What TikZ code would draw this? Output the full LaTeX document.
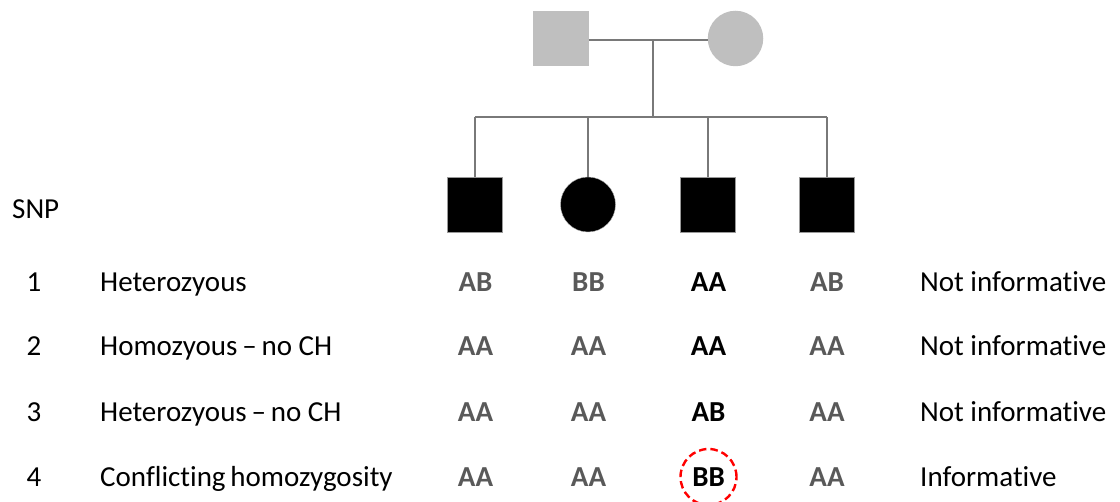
\documentclass[tikz,border=0pt]{standalone}
\usepackage{fontspec}
\setmainfont{Carlito}[Ligatures=NoCommon]
\begin{document}
\begin{tikzpicture}[x=1pt,y=-1pt,
  every node/.style={font=\fontsize{29}{34}\selectfont},
  line/.style={draw=gray!95!black, line width=1.6pt},
  parentsq/.style={draw=none, fill=black!25, rectangle, minimum size=55.5pt, inner sep=0pt},
  parentci/.style={draw=none, fill=black!25, circle, minimum size=55.5pt, inner sep=0pt},
  childsq/.style={fill=black, draw=gray!80, line width=0.4pt, rectangle, minimum size=55pt, inner sep=0pt},
  childci/.style={fill=black, draw=gray!60, line width=0.4pt, circle, minimum size=55pt, inner sep=0pt},
  gt/.style={anchor=base, font=\fontsize{29}{34}\selectfont\bfseries, text=black!65},
  gtk/.style={anchor=base, font=\fontsize{29}{34}\selectfont\bfseries, text=black},
  num/.style={anchor=base},
  lab/.style={anchor=base west},
  res/.style={anchor=base west},
  flag/.style={draw=red, dash pattern=on 7.5pt off 4pt, line width=2.4pt, circle, minimum size=56pt, inner sep=0pt}
]
\useasboundingbox (0,0) rectangle (1120,502);
% parents
\node[parentsq] (f) at (561,38.5) {};
\node[parentci] (m) at (735.5,38.5) {};
\coordinate (mid) at (653,40);
\coordinate (sibL) at (475,117);
\coordinate (sibR) at (827,117);
\coordinate (sibM) at (653,117);
% children
\node[childsq] (c1) at (475,204.5) {};
\node[childci] (c2) at (588,204.5) {};
\node[childsq] (c3) at (708,204.5) {};
\node[childsq] (c4) at (827,204.5) {};
% lines
\draw[line] (f.east |- mid) -- (m.west |- mid);
\draw[line] (mid) -- (sibM);
\draw[line] (sibL) -- (sibR);
\draw[line] (c1.north) -- (c1.north |- sibL);
\draw[line] (c2.north) -- (c2.north |- sibL);
\draw[line] (c3.north) -- (c3.north |- sibL);
\draw[line] (c4.north) -- (c4.north |- sibL);
% table
\node[anchor=base west, inner sep=0pt] (snp) at (12,219) {SNP};
\node[num] (n1) at (34,292) {1};
\node[num] (n2) at (34,356) {2};
\node[num] (n3) at (34,422) {3};
\node[num] (n4) at (34,487) {4};
\node[lab, inner sep=0pt] (l1) at (100,292) {Heterozyous};
\node[lab, inner sep=0pt] (l2) at (100,356) {Homozyous\,–\,no CH};
\node[lab, inner sep=0pt] (l3) at (100,422) {Heterozyous\,–\,no CH};
\node[lab, inner sep=0pt] (l4) at (100,487) {Conflicting\,homozygosity};
% genotypes
\node[gt]  (g11) at (475.5,292) {AB};
\node[gt]  (g12) at (588.5,292) {BB};
\node[gtk] (g13) at (708.5,292) {AA};
\node[gt]  (g14) at (827,292) {AB};
\node[gt]  (g21) at (475.5,356) {AA};
\node[gt]  (g22) at (588.5,356) {AA};
\node[gtk] (g23) at (708.5,356) {AA};
\node[gt]  (g24) at (827,356) {AA};
\node[gt]  (g31) at (475.5,422) {AA};
\node[gt]  (g32) at (588.5,422) {AA};
\node[gtk] (g33) at (708.5,422) {AB};
\node[gt]  (g34) at (827,422) {AA};
\node[gt]  (g41) at (475.5,487) {AA};
\node[gt]  (g42) at (588.5,487) {AA};
\node[gtk] (g43) at (708.5,487) {BB};
\node[gt]  (g44) at (827,487) {AA};
\node[flag] (ring) at (708.5,477) {};
% results
\node[res, inner sep=0pt] (r1) at (920,292) {Not informative};
\node[res, inner sep=0pt] (r2) at (920,356) {Not informative};
\node[res, inner sep=0pt] (r3) at (920,422) {Not informative};
\node[res, inner sep=0pt] (r4) at (920,487) {Informative};
\end{tikzpicture}
\end{document}
